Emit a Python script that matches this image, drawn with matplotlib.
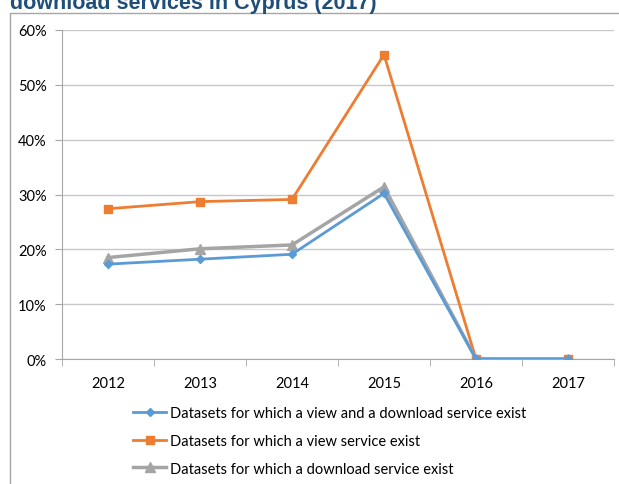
import matplotlib
matplotlib.use('Agg')
import matplotlib.pyplot as plt
from matplotlib.patches import Rectangle
from matplotlib.ticker import PercentFormatter

years = ['2012', '2013', '2014', '2015', '2016', '2017']
view_and_download = [17.3, 18.2, 19.1, 30.2, 0.0, 0.0]
view_only = [27.4, 28.7, 29.1, 55.5, 0.0, 0.0]
download_only = [18.5, 20.1, 20.8, 31.4, 0.0, 0.0]
labels = ['Datasets for which a view and a download service exist',
          'Datasets for which a view service exist',
          'Datasets for which a download service exist']

W, H = 619, 485
fig = plt.figure(figsize=(W / 100, H / 100), dpi=100)
plt.rcParams['font.family'] = ['Lato', 'DejaVu Sans']

# outer chart border (runs off the right and bottom edges)
fig.add_artist(Rectangle((10 / W, -0.1), 1.0, 1 - 14 / H + 0.1,
                         transform=fig.transFigure, fill=False,
                         edgecolor='#a6a6a6', lw=1))

# title, mostly cut off at the top
fig.text(10 / W, 1 - 9 / H, 'download services in Cyprus (2017)',
         color='#1f4e79', fontsize=15.5, fontweight='bold',
         family=['Liberation Sans', 'DejaVu Sans'], va='baseline', ha='left')

ax = fig.add_axes([62 / W, 1 - 360 / H, (614 - 62) / W, (360 - 31) / H])
x = range(len(years))
ax.plot(x, view_and_download, color='#5b9bd5', lw=2, marker='D', ms=4,
        label=labels[0], zorder=4)
ax.plot(x, view_only, color='#ed7d31', lw=2, marker='s', ms=6,
        label=labels[1], zorder=3)
ax.plot(x, download_only, color='#a5a5a5', lw=2.5, marker='^', ms=7,
        label=labels[2], zorder=3)

ax.set_xlim(-0.5, 5.5)
ax.set_ylim(0, 60)
ax.set_yticks(range(0, 61, 10))
ax.yaxis.set_major_formatter(PercentFormatter(decimals=0))
ax.set_xticks(list(x))
ax.set_xticklabels(years)
ax.set_xticks([i + 0.5 for i in range(-1, 6)], minor=True)
ax.tick_params(axis='x', which='major', length=0, pad=12, labelsize=10.5)
ax.tick_params(axis='x', which='minor', length=5, color='#a6a6a6')
ax.tick_params(axis='y', length=5, color='#a6a6a6', labelsize=10.5, pad=6)
ax.grid(axis='y', color='#c8c8c8', lw=1)
ax.set_axisbelow(True)
for s in ['top', 'right']:
    ax.spines[s].set_visible(False)
ax.spines['left'].set_color('#a6a6a6')
ax.spines['bottom'].set_color('#a6a6a6')

leg = ax.legend(loc='upper left', bbox_to_anchor=(127 / W, 1 - 401 / H),
                bbox_transform=fig.transFigure, frameon=False,
                fontsize=10.5, handlelength=2.3, labelspacing=0.95,
                handletextpad=0.25, borderaxespad=0)

fig.savefig('out.png', dpi=100)
